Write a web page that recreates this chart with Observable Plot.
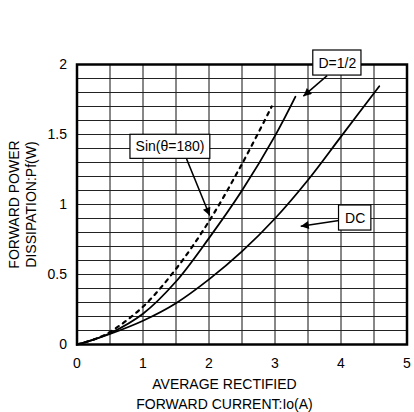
<!DOCTYPE html>
<html>
<head>
<meta charset="utf-8">
<script src="https://cdn.jsdelivr.net/npm/d3@7"></script>
<script src="https://cdn.jsdelivr.net/npm/@observablehq/plot@0.6"></script>
<style>
  html, body { margin: 0; padding: 0; background: #fff; }
  #chart svg { display: block; }
</style>
</head>
<body>
<div id="chart"></div>
<script>
// ---- data ----
const dcX   = [0, 0.25, 0.5, 1, 1.5, 2, 2.5, 3, 3.5, 4, 4.58];
const dcY   = [0, 0.035, 0.075, 0.17, 0.295, 0.465, 0.665, 0.90, 1.175, 1.485, 1.845];
const halfX = [0, 0.25, 0.5, 1, 1.5, 2, 2.5, 3, 3.31];
const halfY = [0, 0.035, 0.08, 0.22, 0.45, 0.76, 1.10, 1.49, 1.77];
const sinX  = [0, 0.25, 0.5, 1, 1.5, 2, 2.5, 2.95];
const sinY  = [0, 0.035, 0.09, 0.27, 0.54, 0.88, 1.29, 1.70];

const xTicks = [0, 1, 2, 3, 4, 5];
const yTicks = [0, 0.5, 1, 1.5, 2];
const xGrid  = [0.5, 1, 1.5, 2, 2.5, 3, 3.5, 4, 4.5];
const yGrid  = [0.1, 0.2, 0.3, 0.4, 0.5, 0.6, 0.7, 0.8, 0.9, 1, 1.1, 1.2, 1.3, 1.4, 1.5, 1.6, 1.7, 1.8, 1.9];

// annotation labels, box extents and arrow ends (data units)
const noteText  = ["Sin(\u03b8=180)", "D=1/2", "DC"];
const noteTx    = [1.41, 3.945, 4.215];
const noteTy    = [1.412, 2.01, 0.903];
const boxX1     = [0.81, 3.58, 3.97];
const boxX2     = [2.02, 4.31, 4.46];
const boxY1     = [1.326, 1.921, 0.814];
const boxY2     = [1.498, 2.10, 0.993];
const arrX1     = [1.66, 3.79, 3.97];
const arrY1     = [1.326, 1.921, 0.886];
const arrX2     = [2.01, 3.43, 3.39];
const arrY2     = [0.921, 1.774, 0.845];

const xTitle = "AVERAGE RECTIFIED\nFORWARD CURRENT:Io(A)";
const yTitle = "FORWARD POWER\nDISSIPATION:Pf(W)";

// ---- tables built from the arrays ----
const toPts = (xs, ys) => xs.map((x, i) => ({x, y: ys[i]}));
const dc = toPts(dcX, dcY);
const half = toPts(halfX, halfY);
const sin = toPts(sinX, sinY);
const notes = noteText.map((t, i) => ({
  t, tx: noteTx[i], ty: noteTy[i],
  x1: boxX1[i], x2: boxX2[i], y1: boxY1[i], y2: boxY2[i],
  ax1: arrX1[i], ay1: arrY1[i], ax2: arrX2[i], ay2: arrY2[i]
}));

const font = "'Liberation Sans', Arial, Helvetica, sans-serif";

const svg = Plot.plot({
  width: 414,
  height: 412,
  marginLeft: 76.5,
  marginRight: 7.5,
  marginTop: 64,
  marginBottom: 68,
  style: {fontFamily: font, fontSize: "14px", color: "#000", background: "#fff", overflow: "visible"},
  x: {domain: [0, 5], ticks: xTicks, tickSize: 0, tickPadding: 14, tickFormat: d => String(d), label: null},
  y: {domain: [0, 2], ticks: yTicks, tickSize: 0, tickPadding: 10, tickFormat: d => String(d), label: null},
  marks: [
    Plot.ruleX(xGrid, {stroke: "#111", strokeWidth: 1}),
    Plot.ruleY(yGrid, {stroke: "#222", strokeWidth: 1}),
    Plot.line(dc,   {x: "x", y: "y", curve: "catmull-rom", stroke: "#000", strokeWidth: 1.8}),
    Plot.line(half, {x: "x", y: "y", curve: "catmull-rom", stroke: "#000", strokeWidth: 1.8}),
    Plot.line(sin,  {x: "x", y: "y", curve: "catmull-rom", stroke: "#000", strokeWidth: 2.2, strokeDasharray: "3.5,5"}),
    Plot.frame({stroke: "#000", strokeWidth: 2.5}),
    Plot.link(notes, {x1: "ax1", y1: "ay1", x2: "ax2", y2: "ay2", stroke: "#000", strokeWidth: 1.5}),
    Plot.rect(notes, {x1: "x1", x2: "x2", y1: "y1", y2: "y2", fill: "#fff", stroke: "#000", strokeWidth: 1.2}),
    Plot.text(notes, {x: "tx", y: "ty", text: "t", fill: "#000", fontSize: 14}),
    Plot.text([xTitle], {frameAnchor: "bottom", textAnchor: "middle", lineAnchor: "middle", dy: 48.5, dx: -17.5, lineHeight: 1.4, fill: "#000", fontSize: 14}),
    Plot.text([yTitle], {frameAnchor: "left", rotate: -90, textAnchor: "middle", lineAnchor: "middle", dx: -55, lineHeight: 1.22, fill: "#000", fontSize: 14})
  ]
});

// filled arrowheads on the annotation links
const s = d3.select(svg);
s.append("defs").append("marker")
  .attr("id", "ahead")
  .attr("viewBox", "0 0 10 10")
  .attr("refX", 10).attr("refY", 5)
  .attr("markerUnits", "userSpaceOnUse")
  .attr("markerWidth", 11).attr("markerHeight", 8)
  .attr("orient", "auto")
  .append("path").attr("d", "M0,0L10,5L0,10Z").attr("fill", "#000");
s.selectAll("g[aria-label=link] path").attr("marker-end", "url(#ahead)");

document.getElementById("chart").appendChild(svg);
</script>
</body>
</html>
